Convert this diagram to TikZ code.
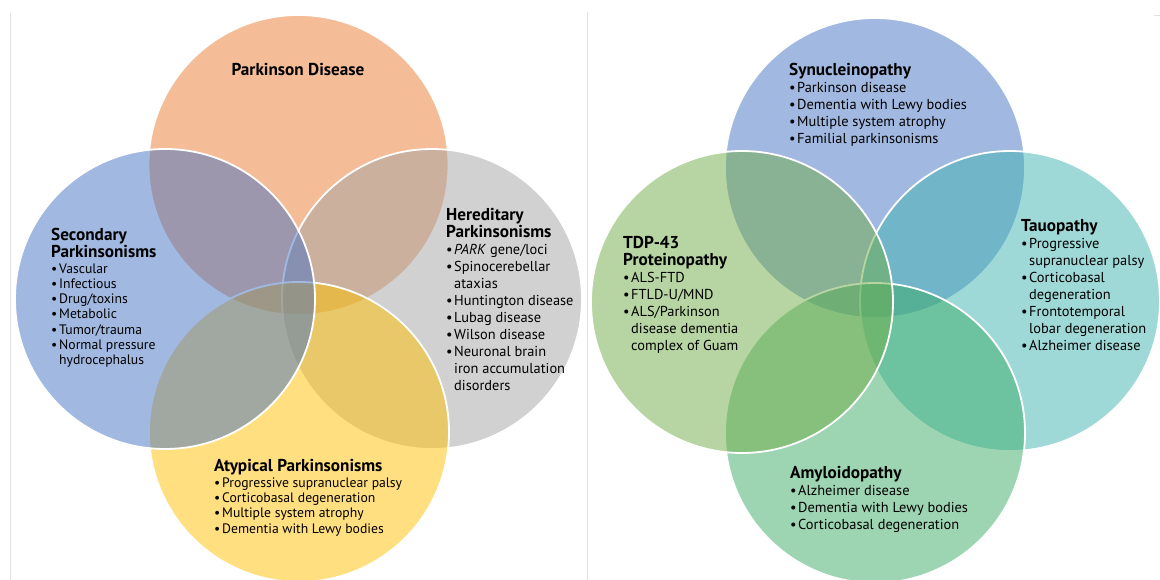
\documentclass[tikz,border=0pt]{standalone}
\usepackage{fontspec}
\setmainfont{PT Sans}
\definecolor{cOrange}{HTML}{ED7D31}
\definecolor{cBlue}{HTML}{4472C4}
\definecolor{cGray}{HTML}{A5A5A5}
\definecolor{cYellow}{HTML}{FFC000}
\definecolor{cTDP}{HTML}{70AD47}
\definecolor{cTau}{HTML}{41B5B1}
\definecolor{cAmy}{HTML}{3CAC68}
\definecolor{cFrame}{HTML}{E2E2E2}
\newcommand{\bl}{\makebox[8pt][l]{•}}
\newcommand{\ind}{\hspace*{8pt}}
\newcommand{\hdL}{\bfseries\fontsize{17.2}{15.3}\selectfont}
\newcommand{\hdR}{\bfseries\fontsize{17.2}{17}\selectfont}
\begin{document}
\begin{tikzpicture}[x=1pt,y=-1pt,
  venn/.style={fill=#1, fill opacity=0.5, draw=white, line width=1.8pt},
  frameline/.style={draw=cFrame, line width=0.8pt},
  blockL/.style={anchor=north west, inner sep=0pt, align=left, text=black,
    font=\fontsize{13.7}{15.3}\selectfont},
  blockR/.style={anchor=north west, inner sep=0pt, align=left, text=black,
    font=\fontsize{14.4}{17}\selectfont},
  ttl/.style={font=\bfseries\fontsize{17.2}{17}\selectfont, inner sep=0pt, text=black}]
\useasboundingbox (0,0) rectangle (1160,580);
\fill[white] (0,0) rectangle (1160,580);
% panel borders
\draw[frameline] (10,13) -- (10,580);
\draw[frameline] (587,12) -- (587,580);
\draw[frameline] (1154,15) -- (1160,15);
% left Venn centres
\coordinate (pd) at (298.5,165);
\coordinate (sp) at (165,299);
\coordinate (hp) at (432,299);
\coordinate (ap) at (299,432);
\path[venn=cOrange] (pd) circle[radius=150pt];
\path[venn=cGray]   (hp) circle[radius=150pt];
\path[venn=cYellow] (ap) circle[radius=150pt];
\path[venn=cBlue]   (sp) circle[radius=150pt];
% right Venn centres
\coordinate (syn) at (875,168);
\coordinate (tdp) at (742,302);
\coordinate (tau) at (1010,301);
\coordinate (amy) at (875,433);
\path[venn=cBlue] (syn) circle[radius=150pt];
\path[venn=cTau]  (tau) circle[radius=150pt];
\path[venn=cAmy]  (amy) circle[radius=150pt];
\path[venn=cTDP]  (tdp) circle[radius=151pt];
% left texts
\node[ttl] (tpd) at (298,70) {Parkinson Disease};
\node[blockL] (tsp) at (51,228.5) {{\hdL Secondary}\\
{\hdL Parkinsonisms}\\
\bl Vascular\\ \bl Infectious\\ \bl Drug/toxins\\ \bl Metabolic\\ \bl Tumor/trauma\\
\bl Normal pressure\\ \ind hydrocephalus};
\node[blockR] (thp) at (446,208.5) {{\hdR Hereditary}\\
{\hdR Parkinsonisms}\\
\bl\textit{PARK} gene/loci\\ \bl Spinocerebellar\\ \ind ataxias\\ \bl Huntington disease\\
\bl Lubag disease\\ \bl Wilson disease\\ \bl Neuronal brain\\ \ind iron accumulation\\ \ind disorders};
\node[blockL] (tap) at (214,459.5) {{\hdL Atypical Parkinsonisms}\\
\bl Progressive supranuclear palsy\\ \bl Corticobasal degeneration\\
\bl Multiple system atrophy\\ \bl Dementia with Lewy bodies};
% right texts
\node[blockR] (tsyn) at (789,63.5) {{\hdR Synucleinopathy}\\
\bl Parkinson disease\\ \bl Dementia with Lewy bodies\\ \bl Multiple system atrophy\\ \bl Familial parkinsonisms};
\node[blockR] (ttau) at (1021,219.5) {{\hdR Tauopathy}\\
\bl Progressive\\ \ind supranuclear palsy\\ \bl Corticobasal\\ \ind degeneration\\
\bl Frontotemporal\\ \ind lobar degeneration\\ \bl Alzheimer disease};
\node[blockR] (ttdp) at (623,236.5) {{\hdR TDP-43}\\
{\hdR Proteinopathy}\\
\bl ALS-FTD\\ \bl FTLD-U/MND\\ \bl ALS/Parkinson\\ \ind disease dementia\\ \ind complex of Guam};
\node[blockR] (tamy) at (790,466.5) {{\hdR Amyloidopathy}\\
\bl Alzheimer disease\\ \bl Dementia with Lewy bodies\\ \bl Corticobasal degeneration};
\end{tikzpicture}
\end{document}
